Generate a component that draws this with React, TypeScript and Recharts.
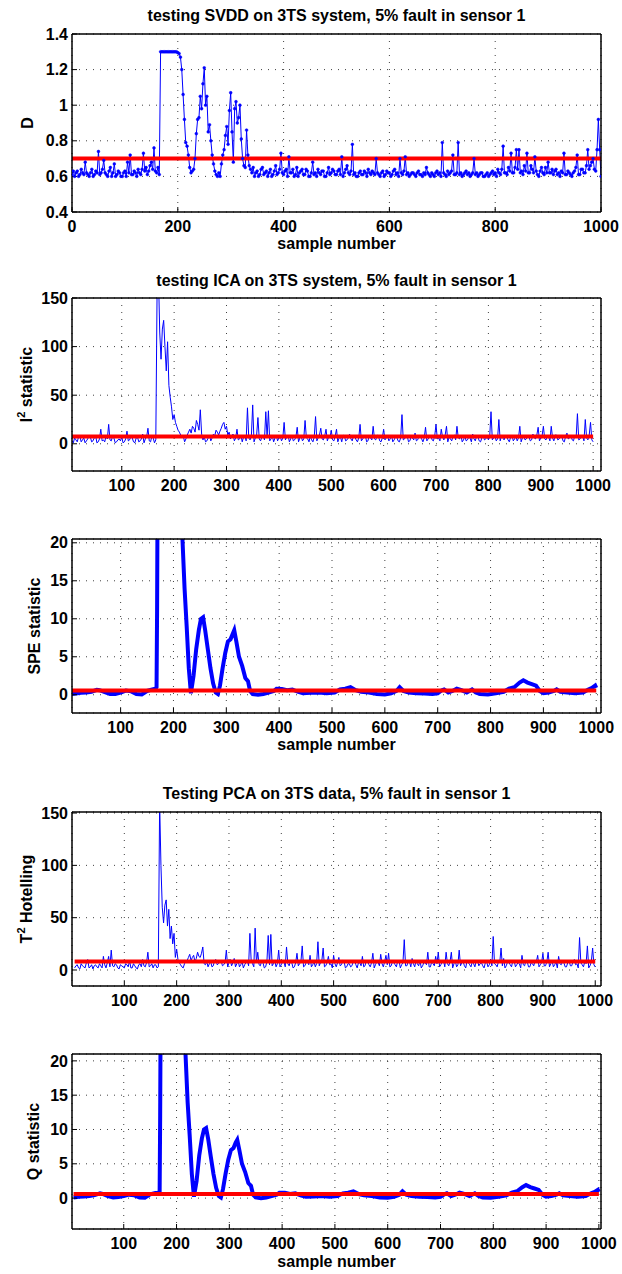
import { LineChart, Line, XAxis, YAxis, CartesianGrid } from "recharts";

const FONT = "'Liberation Sans', Arial, Helvetica, sans-serif";
const BLUE = "#0000ff";
const RED = "#ff0000";
const PAGE_W = 622;
const PAGE_H = 1274;
const PLOT_LEFT = 72;
const PLOT_RIGHT = 601;

// ─── Data ─────────────────────────────────────────────────────────────────────

// SVDD distance D, one reading every 2.5 samples, 0..1000
const svddD = [
  0.61, 0.63, 0.6, 0.62, 0.63, 0.6, 0.61, 0.64, 0.62, 0.61, 0.68, 0.62, 0.61, 0.6, 0.62, 0.64, 0.6, 0.61, 0.63, 0.62,
  0.74, 0.61, 0.62, 0.64, 0.69, 0.62, 0.61, 0.6, 0.63, 0.65, 0.6, 0.62, 0.67, 0.6, 0.61, 0.63, 0.62, 0.6, 0.6, 0.62,
  0.63, 0.6, 0.68, 0.62, 0.72, 0.61, 0.61, 0.63, 0.62, 0.6, 0.64, 0.62, 0.61, 0.64, 0.73, 0.63, 0.65, 0.61, 0.63, 0.66,
  0.68, 0.64, 0.76, 0.63, 0.62, 0.65, 0.61, 1.3, 1.3, 1.3, 1.3, 1.3, 1.3, 1.3, 1.3, 1.3, 1.3, 1.3, 1.3, 1.3,
  1.295, 1.29, 1.27, 1.2, 1.06, 0.92, 0.79, 0.77, 0.72, 0.65, 0.62, 0.63, 0.64, 0.7, 0.84, 0.92, 0.93, 1.05, 0.98, 1.12,
  1.21, 1.0, 1.05, 0.85, 0.89, 0.8, 0.72, 0.67, 0.63, 0.61, 0.6, 0.62, 0.6, 0.67, 0.72, 0.75, 0.83, 0.88, 0.78, 0.97,
  1.07, 0.85, 0.68, 0.98, 1.02, 0.9, 0.93, 1.0, 0.81, 0.7, 0.66, 0.65, 0.86, 0.72, 0.66, 0.64, 0.62, 0.65, 0.6, 0.62,
  0.63, 0.6, 0.61, 0.64, 0.65, 0.61, 0.62, 0.63, 0.6, 0.62, 0.64, 0.6, 0.61, 0.63, 0.66, 0.61, 0.62, 0.64, 0.73, 0.62,
  0.61, 0.63, 0.64, 0.6, 0.71, 0.62, 0.62, 0.64, 0.6, 0.61, 0.65, 0.6, 0.62, 0.63, 0.64, 0.61, 0.61, 0.64, 0.63, 0.6,
  0.6, 0.62, 0.68, 0.61, 0.62, 0.6, 0.64, 0.62, 0.61, 0.63, 0.63, 0.6, 0.6, 0.62, 0.65, 0.61, 0.62, 0.64, 0.63, 0.61,
  0.61, 0.63, 0.64, 0.61, 0.71, 0.6, 0.62, 0.64, 0.66, 0.62, 0.61, 0.63, 0.78, 0.61, 0.62, 0.6, 0.6, 0.62, 0.63, 0.61,
  0.61, 0.63, 0.62, 0.6, 0.64, 0.62, 0.61, 0.63, 0.62, 0.61, 0.7, 0.62, 0.61, 0.6, 0.62, 0.63, 0.6, 0.61, 0.63, 0.62,
  0.62, 0.6, 0.61, 0.63, 0.64, 0.61, 0.62, 0.6, 0.7, 0.62, 0.61, 0.63, 0.71, 0.61, 0.62, 0.6, 0.61, 0.62, 0.62, 0.61,
  0.6, 0.62, 0.63, 0.61, 0.61, 0.6, 0.62, 0.61, 0.65, 0.62, 0.61, 0.6, 0.62, 0.61, 0.6, 0.62, 0.63, 0.61, 0.62, 0.6,
  0.79, 0.62, 0.61, 0.6, 0.63, 0.61, 0.62, 0.63, 0.72, 0.61, 0.61, 0.62, 0.79, 0.61, 0.62, 0.6, 0.61, 0.62, 0.63, 0.61,
  0.62, 0.6, 0.61, 0.62, 0.7, 0.61, 0.62, 0.6, 0.61, 0.62, 0.62, 0.6, 0.6, 0.61, 0.62, 0.6, 0.61, 0.62, 0.63, 0.61,
  0.62, 0.6, 0.64, 0.62, 0.61, 0.64, 0.77, 0.62, 0.62, 0.61, 0.65, 0.63, 0.73, 0.62, 0.62, 0.65, 0.75, 0.64, 0.75, 0.62,
  0.63, 0.61, 0.66, 0.63, 0.73, 0.62, 0.62, 0.66, 0.64, 0.62, 0.71, 0.63, 0.61, 0.6, 0.63, 0.65, 0.62, 0.61, 0.65, 0.62,
  0.68, 0.62, 0.62, 0.64, 0.61, 0.63, 0.64, 0.61, 0.62, 0.6, 0.63, 0.62, 0.73, 0.61, 0.61, 0.63, 0.62, 0.61, 0.6, 0.62,
  0.63, 0.65, 0.72, 0.61, 0.61, 0.64, 0.64, 0.62, 0.62, 0.66, 0.75, 0.64, 0.66, 0.68, 0.7, 0.64, 0.63, 0.75, 0.92, 0.75,
  0.6,
];
const svddLimit = 0.7;

// ICA I^2 statistic, one reading every 2.5 samples, 5..1000
const icaI2 = [
  3, 1, 6, 4, 2, 7, 8, 2, 4, 6, 1, 3, 5, 9, 7, 2, 3, 6, 9, 1, 2, 5, 15, 3, 4, 2, 8, 5, 20, 4, 3, 8, 6, 1, 2, 4, 5, 3, 7, 1,
  2, 5, 13, 3, 4, 8, 6, 2, 1, 6, 7, 2, 3, 5, 10, 1, 5, 7, 16, 3, 2, 8, 6, 1, 4, 160, 175, 115, 87, 118, 127, 100, 75, 105, 60, 48, 38, 25, 30, 22,
  18, 14, 12, 9, 6, 8, 2, 5, 9, 12, 15, 11, 18, 16, 12, 24, 20, 14, 35, 10, 4, 7, 2, 3, 6, 9, 3, 6, 10, 8, 14, 12, 9, 13, 16, 20, 22, 15, 18, 9,
  12, 5, 8, 10, 3, 6, 15, 4, 5, 9, 2, 7, 9, 3, 37, 6, 4, 8, 40, 2, 6, 9, 27, 5, 3, 7, 8, 4, 33, 7, 34, 3, 5, 8, 2, 6, 9, 3, 6, 8,
  3, 6, 22, 4, 7, 9, 2, 5, 9, 3, 4, 7, 17, 2, 6, 8, 3, 5, 24, 6, 5, 2, 8, 4, 2, 7, 28, 3, 6, 9, 16, 5, 4, 8, 15, 3, 7, 6, 14, 4,
  3, 8, 15, 2, 6, 7, 2, 9, 8, 3, 4, 6, 10, 5, 3, 8, 7, 4, 2, 6, 20, 3, 5, 7, 9, 2, 3, 8, 6, 4, 18, 5, 4, 9, 8, 3, 2, 6, 15, 4,
  6, 8, 3, 5, 9, 2, 4, 7, 7, 3, 2, 6, 30, 4, 5, 9, 8, 2, 3, 7, 6, 4, 11, 3, 4, 8, 7, 5, 2, 6, 17, 3, 5, 7, 9, 4, 3, 8, 20, 5,
  6, 3, 15, 7, 4, 9, 18, 2, 7, 5, 3, 8, 9, 4, 18, 6, 5, 9, 2, 4, 8, 3, 4, 7, 6, 2, 10, 5, 3, 8, 7, 3, 2, 6, 9, 4, 5, 8, 4, 7,
  33, 4, 6, 8, 3, 5, 25, 3, 8, 6, 4, 9, 7, 4, 2, 7, 9, 3, 5, 8, 3, 6, 18, 2, 6, 8, 4, 5, 8, 7, 3, 4, 10, 6, 5, 9, 17, 3, 6, 8,
  18, 5, 4, 8, 7, 3, 18, 6, 3, 9, 9, 4, 5, 7, 8, 3, 2, 8, 11, 5, 6, 9, 4, 3, 9, 6, 31, 4, 5, 8, 8, 3, 25, 6, 4, 9, 22, 4, 2,
];
const icaI2Limit = 7.6;

// ICA SPE statistic, [sample, value]
const icaSpe: [number, number][] = [
  [5, 0.1], [15, 0.15], [25, 0.25], [35, 0.3], [45, 0.4], [55, 0.65], [60, 0.6], [70, 0.35], [80, 0.1], [90, 0.1],
  [100, 0.3], [110, 0.55], [120, 0.45], [130, 0.1], [140, 0.05], [150, 0.5], [160, 0.7], [166, 0.8], [168, 1.0], [169, 11],
  [171, 45], [190, 70], [212, 45], [217, 20.5], [221, 14], [225, 9], [229, 3.5], [233, 0.2], [238, 2.5], [243, 6],
  [248, 8.5], [252, 10], [256, 10.2], [260, 8.5], [265, 6], [270, 3.5], [275, 1.5], [280, 0.3], [284, 0.1], [288, 1.2],
  [293, 3.5], [298, 5.5], [303, 7], [308, 7.3], [312, 8], [315, 8.5], [319, 7], [324, 5], [330, 3.8], [336, 2.2],
  [341, 1.8], [345, 0.5], [350, 0.1], [360, 0], [370, 0.1], [380, 0.3], [390, 0.5], [395, 0.8], [405, 0.75], [415, 0.6],
  [425, 0.7], [435, 0.4], [445, 0.2], [460, 0.25], [475, 0.3], [490, 0.2], [505, 0.3], [515, 0.7], [525, 0.8], [535, 1.0],
  [545, 0.6], [555, 0.4], [570, 0.3], [585, 0.1], [600, 0.05], [612, 0.2], [622, 0.5], [628, 1.0], [635, 0.5], [645, 0.3],
  [660, 0.2], [675, 0.15], [690, 0.1], [700, 0.2], [708, 0.6], [712, 0.7], [720, 0.3], [728, 0.5], [736, 0.8], [745, 0.6],
  [755, 0.3], [765, 0.7], [772, 0.3], [780, 0.1], [795, 0.05], [810, 0.2], [825, 0.4], [835, 0.8], [845, 1.0], [855, 1.6],
  [862, 1.9], [870, 1.6], [878, 1.4], [886, 1.2], [893, 0.5], [900, 0.2], [910, 0.3], [920, 0.5], [925, 0.7], [932, 0.4],
  [945, 0.3], [960, 0.2], [975, 0.3], [985, 0.7], [992, 0.9], [998, 1.2], [1000, 0.9],
];
const icaSpeLimit = 0.57;

// PCA T^2 Hotelling, one reading every 2.5 samples, 5..1000
const pcaT2 = [
  2, 4, 5, 2, 1, 6, 4, 3, 2, 7, 10, 2, 3, 5, 1, 4, 5, 3, 2, 6, 4, 2, 13, 5, 2, 7, 13, 3, 19, 4, 3, 6, 5, 2, 1, 5, 4, 3, 2, 6,
  5, 3, 9, 2, 2, 6, 4, 2, 1, 5, 6, 3, 10, 4, 3, 7, 17, 3, 4, 6, 2, 5, 5, 2, 3, 160, 100, 60, 45, 62, 67, 42, 58, 30, 42, 25, 35, 12, 20, 10,
  7, 5, 3, 2, 6, 8, 9, 12, 15, 9, 12, 14, 8, 11, 17, 13, 12, 16, 22, 6, 5, 8, 3, 6, 8, 3, 4, 9, 10, 5, 6, 8, 9, 4, 5, 7, 19, 3, 7, 10,
  4, 7, 11, 3, 6, 9, 3, 5, 8, 2, 5, 7, 9, 4, 35, 8, 6, 3, 40, 7, 17, 5, 4, 9, 7, 2, 3, 8, 33, 5, 34, 4, 6, 9, 3, 6, 19, 3, 5, 8,
  8, 3, 22, 6, 4, 9, 7, 2, 3, 7, 16, 4, 6, 8, 23, 3, 4, 7, 8, 5, 14, 3, 5, 8, 3, 6, 27, 4, 7, 9, 21, 3, 4, 7, 13, 5, 6, 2, 14, 6,
  3, 7, 12, 4, 5, 9, 8, 2, 3, 6, 6, 3, 4, 8, 9, 5, 2, 7, 7, 4, 13, 3, 4, 9, 8, 5, 3, 7, 16, 2, 5, 8, 7, 4, 15, 6, 3, 8, 14, 5,
  16, 3, 4, 8, 7, 5, 3, 9, 9, 2, 5, 7, 29, 4, 4, 8, 8, 3, 11, 6, 3, 9, 6, 4, 9, 2, 4, 7, 7, 5, 17, 3, 3, 8, 6, 4, 13, 6, 17, 3,
  5, 8, 9, 3, 17, 6, 4, 8, 17, 2, 6, 9, 3, 5, 19, 4, 7, 8, 4, 2, 9, 7, 5, 3, 8, 6, 3, 9, 9, 4, 6, 7, 4, 2, 7, 8, 3, 5, 10, 4,
  32, 6, 5, 3, 8, 7, 21, 4, 11, 2, 4, 8, 7, 5, 3, 9, 9, 3, 5, 7, 6, 2, 14, 5, 4, 9, 8, 3, 3, 7, 6, 4, 9, 8, 14, 3, 5, 7, 16, 4,
  4, 8, 17, 3, 6, 9, 3, 5, 8, 2, 13, 6, 5, 8, 7, 3, 3, 7, 9, 4, 4, 8, 10, 5, 6, 2, 31, 7, 5, 3, 8, 6, 23, 2, 4, 8, 21, 5, 3,
];
const pcaT2Limit = 8.1;

// PCA Q statistic, [sample, value]
const pcaQ: [number, number][] = [
  [5, 0.1], [15, 0.2], [25, 0.25], [35, 0.3], [45, 0.45], [55, 0.7], [60, 0.6], [70, 0.3], [80, 0.1], [90, 0.15],
  [100, 0.3], [110, 0.5], [120, 0.4], [130, 0.1], [140, 0.05], [150, 0.55], [160, 0.75], [166, 0.8], [168, 1.0], [169, 12],
  [171, 45], [190, 70], [212, 45], [217, 21], [221, 14], [225, 9], [229, 3.5], [233, 0.2], [238, 2.5], [243, 6.2],
  [248, 8.7], [252, 10], [256, 10.2], [260, 8.6], [265, 6], [270, 3.5], [275, 1.5], [280, 0.3], [284, 0.1], [288, 1.3],
  [293, 3.6], [298, 5.6], [303, 7], [308, 7.3], [312, 8.1], [315, 8.5], [319, 7], [324, 5], [330, 3.8], [336, 2.2],
  [341, 1.8], [345, 0.5], [350, 0.1], [360, 0], [370, 0.1], [380, 0.3], [390, 0.5], [395, 0.8], [405, 0.8], [415, 0.6],
  [425, 0.7], [435, 0.4], [445, 0.2], [460, 0.25], [475, 0.3], [490, 0.2], [505, 0.3], [515, 0.7], [525, 0.8], [535, 1.0],
  [545, 0.6], [555, 0.4], [570, 0.3], [585, 0.1], [600, 0.05], [612, 0.2], [622, 0.5], [628, 1.0], [635, 0.5], [645, 0.3],
  [660, 0.2], [675, 0.15], [690, 0.1], [700, 0.2], [708, 0.6], [712, 0.7], [720, 0.3], [728, 0.5], [736, 0.8], [745, 0.6],
  [755, 0.3], [765, 0.7], [772, 0.3], [780, 0.1], [795, 0.05], [810, 0.2], [825, 0.4], [835, 0.8], [845, 1.0], [855, 1.6],
  [862, 1.9], [870, 1.6], [878, 1.4], [886, 1.2], [893, 0.5], [900, 0.2], [910, 0.3], [920, 0.5], [925, 0.7], [932, 0.4],
  [945, 0.3], [960, 0.2], [975, 0.3], [985, 0.7], [992, 0.9], [998, 1.2], [1000, 0.9],
];
const pcaQLimit = 0.6;

// tick values
const ticksX0 = [0, 200, 400, 600, 800, 1000];
const ticksX = [100, 200, 300, 400, 500, 600, 700, 800, 900, 1000];
const ticksD = [0.4, 0.6, 0.8, 1, 1.2, 1.4];
const ticks150 = [0, 50, 100, 150];
const ticks20 = [0, 5, 10, 15, 20];

// ─── Helpers ──────────────────────────────────────────────────────────────────

type Row = { x: number; v: number; lim: number };

const stepped = (vals: number[], start: number, step: number, limit: number): Row[] =>
  vals.map((v, i) => ({ x: start + i * step, v, lim: limit }));

const fromPairs = (pairs: [number, number][], limit: number): Row[] =>
  pairs.map(([x, v]) => ({ x, v, lim: limit }));

const tickFont = { fill: "#000", fontSize: 16, fontWeight: "bold", fontFamily: FONT };
const axisStroke = { stroke: "#000", strokeWidth: 1.5 };
const tickStroke = { stroke: "#000", strokeWidth: 1 };

// axis band sizes (the axes sit on the plot edges, ticks point inwards)
const LEFT_W = 40;
const RIGHT_W = 10;
const TOP_H = 10;
const BOTTOM_H = 30;

// ─── One MATLAB-style subplot ─────────────────────────────────────────────────

function Panel({
  top,
  bottom,
  data,
  xDomain,
  xTicks,
  yDomain,
  yTicks,
  lineWidth,
  dots = false,
}: {
  top: number;
  bottom: number;
  data: Row[];
  xDomain: [number, number];
  xTicks: number[];
  yDomain: [number, number];
  yTicks: number[];
  lineWidth: number;
  dots?: boolean;
}) {
  const mt = 20;
  const mb = 45;
  return (
    <div style={{ position: "absolute", left: 0, top: top - mt }}>
      <LineChart
        width={PAGE_W}
        height={bottom - top + mt + mb}
        data={data}
        margin={{
          top: mt - TOP_H,
          right: PAGE_W - PLOT_RIGHT - RIGHT_W,
          bottom: mb - BOTTOM_H,
          left: PLOT_LEFT - LEFT_W,
        }}
      >
        <CartesianGrid stroke="#000" strokeDasharray="1 6" strokeOpacity={0.75} />
        <XAxis
          type="number"
          dataKey="x"
          domain={xDomain}
          ticks={xTicks}
          interval={0}
          allowDataOverflow
          height={BOTTOM_H}
          tickSize={-5}
          tickMargin={13.5}
          axisLine={axisStroke}
          tickLine={tickStroke}
          tick={tickFont}
        />
        <XAxis
          xAxisId="top"
          orientation="top"
          type="number"
          dataKey="x"
          domain={xDomain}
          ticks={xTicks}
          interval={0}
          allowDataOverflow
          height={TOP_H}
          tickSize={-5}
          axisLine={axisStroke}
          tickLine={tickStroke}
          tick={false}
        />
        <YAxis
          type="number"
          domain={yDomain}
          ticks={yTicks}
          interval={0}
          allowDataOverflow
          width={LEFT_W}
          tickSize={-5}
          tickMargin={9}
          axisLine={axisStroke}
          tickLine={tickStroke}
          tick={tickFont}
        />
        <YAxis
          yAxisId="right"
          orientation="right"
          type="number"
          domain={yDomain}
          ticks={yTicks}
          interval={0}
          allowDataOverflow
          width={RIGHT_W}
          tickSize={-5}
          axisLine={axisStroke}
          tickLine={tickStroke}
          tick={false}
        />
        <Line
          type="linear"
          dataKey="v"
          stroke={BLUE}
          strokeWidth={lineWidth}
          dot={dots ? { r: 1.4, fill: BLUE, stroke: BLUE, strokeWidth: 0.5 } : false}
          isAnimationActive={false}
        />
        <Line
          type="linear"
          dataKey="lim"
          stroke={RED}
          strokeWidth={4}
          dot={false}
          isAnimationActive={false}
        />
      </LineChart>
    </div>
  );
}

// ─── Page ─────────────────────────────────────────────────────────────────────

export default function App() {
  const cx = (PLOT_LEFT + PLOT_RIGHT) / 2;
  return (
    <div style={{ position: "absolute", left: 0, top: 0, width: PAGE_W, height: PAGE_H, background: "#fff" }}>
      <Panel
        top={34}
        bottom={212}
        data={stepped(svddD, 0, 2.5, svddLimit)}
        xDomain={[0, 1000]}
        xTicks={ticksX0}
        yDomain={[0.4, 1.4]}
        yTicks={ticksD}
        lineWidth={1}
        dots
      />
      <Panel
        top={298}
        bottom={471}
        data={stepped(icaI2, 5, 2.5, icaI2Limit)}
        xDomain={[5, 1015]}
        xTicks={ticksX}
        yDomain={[-28, 150]}
        yTicks={ticks150}
        lineWidth={1}
      />
      <Panel
        top={539}
        bottom={713}
        data={fromPairs(icaSpe, icaSpeLimit)}
        xDomain={[8, 1009]}
        xTicks={ticksX}
        yDomain={[-2.4, 20.5]}
        yTicks={ticks20}
        lineWidth={4}
      />
      <Panel
        top={812}
        bottom={986}
        data={stepped(pcaT2, 5, 2.5, pcaT2Limit)}
        xDomain={[0, 1011]}
        xTicks={ticksX}
        yDomain={[-15.3, 151]}
        yTicks={ticks150}
        lineWidth={1}
      />
      <Panel
        top={1054}
        bottom={1229}
        data={fromPairs(pcaQ, pcaQLimit)}
        xDomain={[2, 1004]}
        xTicks={ticksX}
        yDomain={[-4.5, 21]}
        yTicks={ticks20}
        lineWidth={4}
      />

      <svg
        width={PAGE_W}
        height={PAGE_H}
        style={{ position: "absolute", left: 0, top: 0, pointerEvents: "none" }}
        fontFamily={FONT}
        fontWeight="bold"
        fontSize={16}
        fill="#000"
      >
        {/* titles */}
        <text x={cx} y={21} textAnchor="middle">testing SVDD on 3TS system, 5% fault in sensor 1</text>
        <text x={cx} y={286} textAnchor="middle">testing ICA on 3TS system, 5% fault in sensor 1</text>
        <text x={cx} y={799} textAnchor="middle">Testing PCA on 3TS data, 5% fault in sensor 1</text>

        {/* x labels */}
        <text x={cx} y={249} textAnchor="middle">sample number</text>
        <text x={cx} y={750} textAnchor="middle">sample number</text>
        <text x={cx} y={1267} textAnchor="middle">sample number</text>

        {/* y labels */}
        <text transform="translate(33,123) rotate(-90)" textAnchor="middle">D</text>
        <text transform="translate(32,384.5) rotate(-90)" textAnchor="middle">
          I<tspan dy={-7} fontSize={11}>2</tspan>
          <tspan dy={7}> statistic</tspan>
        </text>
        <text transform="translate(40,626) rotate(-90)" textAnchor="middle">SPE statistic</text>
        <text transform="translate(32,899) rotate(-90)" textAnchor="middle">
          T<tspan dy={-7} fontSize={11}>2</tspan>
          <tspan dy={7}> Hotelling</tspan>
        </text>
        <text transform="translate(39,1141.5) rotate(-90)" textAnchor="middle">Q statistic</text>
      </svg>
    </div>
  );
}
